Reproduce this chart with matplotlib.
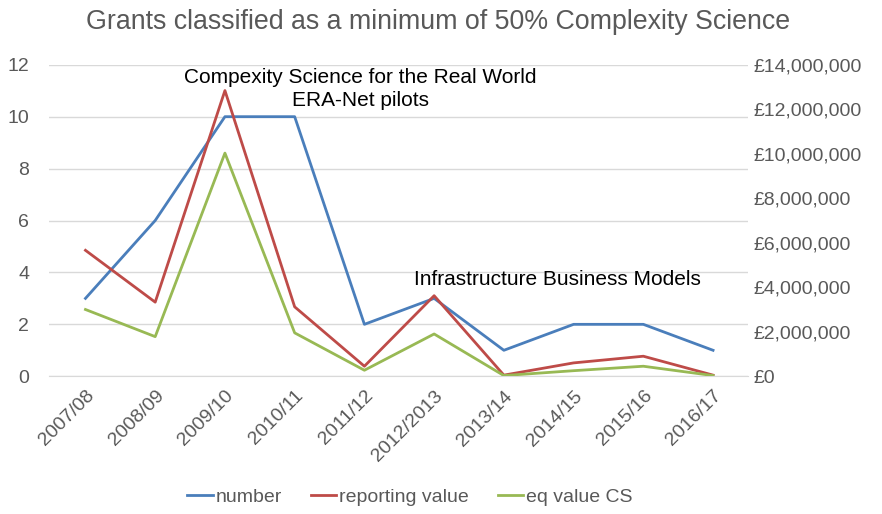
import matplotlib
matplotlib.use('Agg')
from matplotlib import pyplot as plt
from matplotlib.ticker import FuncFormatter

YEARS = ['2007/08', '2008/09', '2009/10', '2010/11', '2011/12',
         '2012/2013', '2013/14', '2014/15', '2015/16', '2016/17']
NUMBER = [3, 6, 10, 10, 2, 3, 1, 2, 2, 1]
REPORTING_VALUE = [5660000, 3330000, 12840000, 3120000, 450000,
                   3620000, 50000, 600000, 900000, 50000]
EQ_VALUE_CS = [3000000, 1780000, 10030000, 1950000, 270000,
               1900000, 30000, 250000, 450000, 30000]

BLUE = '#4a7ebb'
RED = '#be4b48'
GREEN = '#98b954'
GREY = '#595959'

plt.rcParams['font.family'] = ['Liberation Sans', 'DejaVu Sans']


def pounds(value, pos):
    return '£{:,.0f}'.format(value)


def main():
    figure = plt.figure(figsize=(8.82, 5.14), dpi=100)
    axis1 = figure.add_axes([0.055, 0.268, 0.793, 0.606])
    axis2 = axis1.twinx()

    x = range(len(YEARS))
    line1, = axis1.plot(x, NUMBER, color=BLUE, linewidth=2.0, label='number')
    line2, = axis2.plot(x, REPORTING_VALUE, color=RED, linewidth=2.0, label='reporting value')
    line3, = axis2.plot(x, EQ_VALUE_CS, color=GREEN, linewidth=2.0, label='eq value CS')

    axis1.set_xlim(-0.53, 9.5)
    axis1.set_ylim(0, 12)
    axis1.set_yticks(range(0, 13, 2))
    axis2.set_ylim(0, 14000000)
    axis2.set_yticks(range(0, 14000001, 2000000))
    axis2.yaxis.set_major_formatter(FuncFormatter(pounds))

    axis1.set_xticks(list(x))
    axis1.set_xticklabels(YEARS, rotation=45, ha='right', rotation_mode='anchor')
    axis1.grid(axis='y', color='#d9d9d9', linewidth=1)
    axis1.set_axisbelow(True)

    for axis in (axis1, axis2):
        for side in axis.spines.values():
            side.set_visible(False)
        axis.tick_params(length=0, labelsize=14, labelcolor=GREY)
    axis1.tick_params(axis='y', pad=14)
    axis2.tick_params(axis='y', pad=4)
    axis1.tick_params(axis='x', pad=8)
    axis1.spines['bottom'].set_visible(True)
    axis1.spines['bottom'].set_color('#d9d9d9')

    figure.text(0.497, 0.958, 'Grants classified as a minimum of 50% Complexity Science',
                ha='center', va='center', fontsize=19.3, color=GREY)

    axis1.text(0.446, 0.922, 'Compexity Science for the Real World\nERA-Net pilots',
               transform=axis1.transAxes, ha='center', va='center',
               fontsize=15, linespacing=1.3)
    axis1.text(0.728, 0.309, 'Infrastructure Business Models',
               transform=axis1.transAxes, ha='center', va='center', fontsize=15)

    figure.legend(handles=[line1, line2, line3], loc='center', bbox_to_anchor=(0.465, 0.033),
                  ncol=3, frameon=False, fontsize=14, handlelength=1.3,
                  handletextpad=0.15, columnspacing=1.5, labelcolor=GREY)

    figure.savefig('out.png', dpi=100)


if __name__ == "__main__":
    main()
